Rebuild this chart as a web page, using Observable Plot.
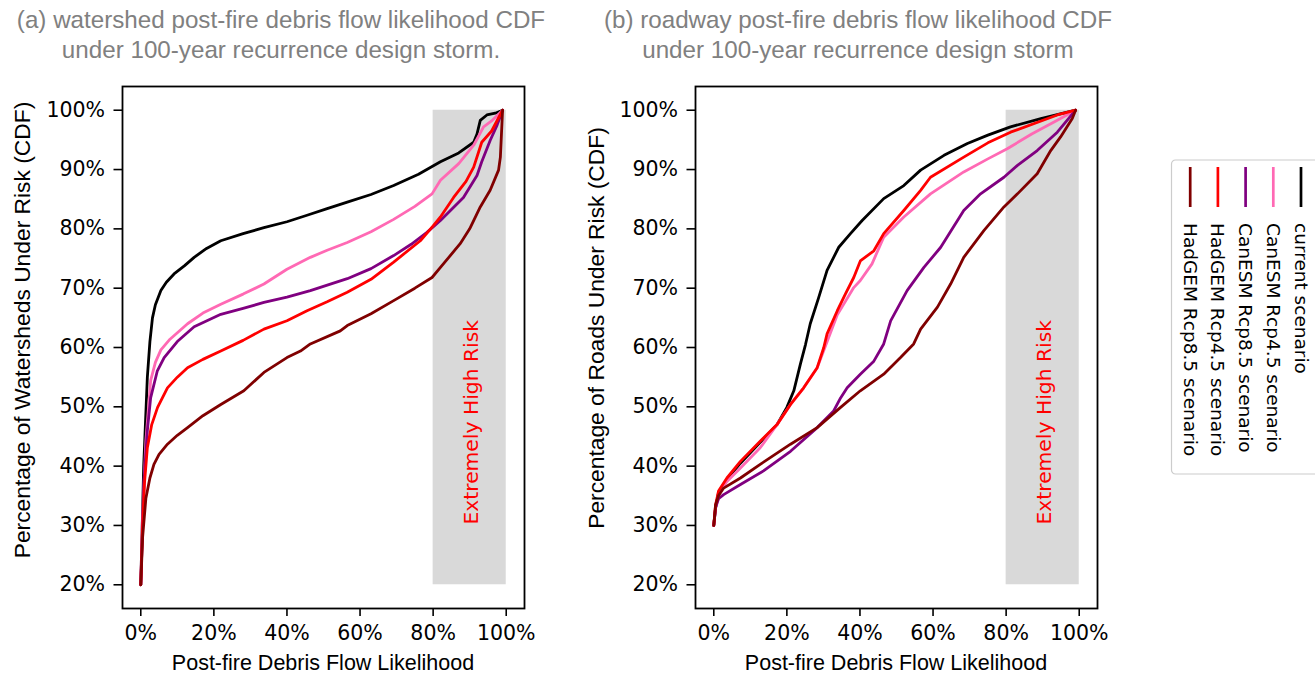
<!DOCTYPE html>
<html>
<head>
<meta charset="utf-8">
<script src="https://cdn.jsdelivr.net/npm/d3@7"></script>
<script src="https://cdn.jsdelivr.net/npm/@observablehq/plot@0.6"></script>
<style>
  html, body { margin: 0; padding: 0; background: #fff; }
  #root { position: relative; width: 1315px; height: 675px; overflow: hidden; }
  .title { position: absolute; transform: translateX(-50%); text-align: center; white-space: nowrap;
           font-family: "Liberation Sans", Arial, sans-serif; font-size: 24.2px; line-height: 30px; color: #808080; }
  .xlabel { position: absolute; transform: translate(-50%, -50%); white-space: nowrap;
            font-family: "Liberation Sans", Arial, sans-serif; font-size: 21.5px; color: #000; }
  .ylabel { position: absolute; transform: translate(-50%, -50%) rotate(-90deg); white-space: nowrap;
            font-family: "Liberation Sans", Arial, sans-serif; font-size: 22.8px; color: #000; }
  .panel { position: absolute; }
</style>
</head>
<body>
<div id="root"></div>
<script>
// ---------- data ----------
const seriesNames = ["current scenario", "CanESM Rcp4.5 scenario", "CanESM Rcp8.5 scenario", "HadGEM Rcp4.5 scenario", "HadGEM Rcp8.5 scenario"];
const seriesColors = ["#000000", "#ff69b4", "#800080", "#ff0000", "#800000"];

const xTicks = [0, 0.2, 0.4, 0.6, 0.8, 1.0];
const yTicks = [0.2, 0.3, 0.4, 0.5, 0.6, 0.7, 0.8, 0.9, 1.0];
const riskX = [0.8, 1.0];
const riskY = [0.2, 1.0];
const riskLabel = "Extremely High Risk";

const titleA = ["(a) watershed post-fire debris flow likelihood CDF", "under 100-year recurrence design storm."];
const titleB = ["(b) roadway post-fire debris flow likelihood CDF", "under 100-year recurrence design storm"];
const xLabel = "Post-fire Debris Flow Likelihood";
const yLabelA = "Percentage of Watersheds Under Risk (CDF)";
const yLabelB = "Percentage of Roads Under Risk (CDF)";

// (a) watershed CDF: [likelihood, cumulative share]
const wsCurrent = [[0,0.2],[0.008,0.4],[0.018,0.55],[0.025,0.61],[0.032,0.65],[0.04,0.672],[0.055,0.696],[0.07,0.71],[0.091,0.724],[0.12,0.738],[0.146,0.752],[0.18,0.767],[0.219,0.78],[0.28,0.792],[0.337,0.802],[0.4,0.812],[0.455,0.823],[0.51,0.834],[0.565,0.845],[0.63,0.858],[0.692,0.873],[0.76,0.892],[0.82,0.913],[0.87,0.928],[0.911,0.946],[0.92,0.96],[0.929,0.983],[0.947,0.992],[0.97,0.995],[0.99,1.0]];
const wsCan45 = [[0,0.2],[0.004,0.3],[0.014,0.443],[0.027,0.544],[0.04,0.575],[0.055,0.596],[0.08,0.614],[0.128,0.64],[0.17,0.658],[0.219,0.673],[0.28,0.69],[0.337,0.707],[0.4,0.732],[0.464,0.752],[0.51,0.764],[0.565,0.777],[0.63,0.795],[0.692,0.816],[0.75,0.838],[0.797,0.859],[0.82,0.882],[0.87,0.91],[0.911,0.941],[0.938,0.972],[0.96,0.982],[0.99,1.0]];
const wsCan85 = [[0,0.2],[0.009,0.375],[0.018,0.46],[0.027,0.515],[0.045,0.56],[0.064,0.583],[0.1,0.61],[0.146,0.635],[0.219,0.656],[0.28,0.666],[0.337,0.676],[0.4,0.685],[0.464,0.696],[0.565,0.716],[0.63,0.733],[0.692,0.755],[0.74,0.774],[0.783,0.794],[0.82,0.814],[0.883,0.853],[0.92,0.89],[0.933,0.913],[0.956,0.949],[0.975,0.975],[0.99,1.0]];
const wsHad45 = [[0,0.2],[0.005,0.3],[0.01,0.37],[0.018,0.431],[0.03,0.47],[0.046,0.499],[0.073,0.532],[0.1,0.55],[0.128,0.566],[0.17,0.58],[0.219,0.594],[0.28,0.612],[0.337,0.631],[0.4,0.645],[0.455,0.662],[0.51,0.677],[0.565,0.693],[0.63,0.715],[0.692,0.744],[0.765,0.78],[0.8,0.805],[0.82,0.82],[0.856,0.853],[0.89,0.88],[0.911,0.904],[0.933,0.946],[0.96,0.965],[0.99,1.0]];
const wsHad85 = [[0,0.2],[0.005,0.28],[0.014,0.346],[0.025,0.38],[0.036,0.403],[0.05,0.42],[0.073,0.437],[0.1,0.452],[0.128,0.465],[0.17,0.485],[0.219,0.504],[0.282,0.527],[0.337,0.558],[0.4,0.583],[0.437,0.594],[0.464,0.606],[0.546,0.628],[0.565,0.637],[0.63,0.657],[0.692,0.679],[0.75,0.7],[0.797,0.718],[0.82,0.735],[0.874,0.775],[0.9,0.8],[0.929,0.837],[0.956,0.865],[0.979,0.899],[0.984,0.921],[0.99,1.0]];

// (b) roadway CDF
const rdCurrent = [[0,0.3],[0.005,0.33],[0.013,0.355],[0.036,0.378],[0.073,0.405],[0.127,0.44],[0.173,0.47],[0.2,0.499],[0.219,0.527],[0.237,0.572],[0.251,0.605],[0.264,0.64],[0.287,0.684],[0.31,0.73],[0.342,0.769],[0.374,0.792],[0.406,0.814],[0.465,0.851],[0.52,0.873],[0.566,0.899],[0.63,0.924],[0.694,0.944],[0.75,0.958],[0.812,0.972],[0.895,0.986],[0.99,1.0]];
const rdCan45 = [[0,0.3],[0.005,0.33],[0.013,0.352],[0.036,0.374],[0.073,0.397],[0.127,0.431],[0.173,0.47],[0.21,0.504],[0.246,0.532],[0.283,0.566],[0.301,0.595],[0.338,0.655],[0.383,0.701],[0.401,0.713],[0.433,0.741],[0.465,0.786],[0.52,0.82],[0.593,0.859],[0.684,0.896],[0.75,0.918],[0.803,0.935],[0.87,0.96],[0.94,0.983],[0.99,1.0]];
const rdCan85 = [[0,0.3],[0.005,0.33],[0.013,0.345],[0.027,0.352],[0.073,0.369],[0.136,0.392],[0.21,0.425],[0.283,0.465],[0.328,0.493],[0.347,0.515],[0.365,0.532],[0.401,0.555],[0.438,0.577],[0.465,0.606],[0.484,0.645],[0.529,0.696],[0.575,0.735],[0.621,0.769],[0.684,0.831],[0.73,0.859],[0.794,0.887],[0.831,0.907],[0.885,0.932],[0.94,0.963],[0.99,1.0]];
const rdHad45 = [[0,0.3],[0.005,0.335],[0.013,0.358],[0.036,0.38],[0.073,0.408],[0.127,0.442],[0.173,0.47],[0.21,0.504],[0.246,0.532],[0.283,0.566],[0.301,0.6],[0.31,0.623],[0.338,0.662],[0.36,0.69],[0.383,0.718],[0.401,0.746],[0.438,0.763],[0.465,0.792],[0.52,0.831],[0.566,0.865],[0.593,0.887],[0.684,0.921],[0.75,0.945],[0.812,0.963],[0.94,0.992],[0.99,1.0]];
const rdHad85 = [[0,0.3],[0.005,0.335],[0.013,0.35],[0.027,0.363],[0.073,0.38],[0.127,0.403],[0.21,0.437],[0.283,0.465],[0.347,0.499],[0.401,0.527],[0.465,0.555],[0.511,0.583],[0.547,0.606],[0.566,0.631],[0.612,0.668],[0.648,0.707],[0.684,0.752],[0.739,0.797],[0.794,0.837],[0.831,0.859],[0.885,0.893],[0.922,0.932],[0.949,0.955],[0.981,0.986],[0.99,1.0]];

const panelA = [wsCurrent, wsCan45, wsCan85, wsHad45, wsHad85];
const panelB = [rdCurrent, rdCan45, rdCan85, rdHad45, rdHad85];

// ---------- drawing ----------
const root = document.getElementById("root");
const FONT = "DejaVu Sans, sans-serif";

function panel(series, opts) {
  const band = [{x1: riskX[0], x2: riskX[1], y1: riskY[0], y2: riskY[1]}];
  const marks = [
    Plot.rect(band, {x1: "x1", x2: "x2", y1: "y1", y2: "y2", fill: "#d9d9d9"}),
    Plot.text([riskLabel], {x: opts.labelX, y: opts.labelY, text: d => d, rotate: -90,
      fill: "red", fontSize: 20.3, fontFamily: FONT, textAnchor: "middle", lineAnchor: "middle"}),
    ...series.map((s, i) => Plot.line(s, {x: d => d[0], y: d => d[1], stroke: seriesColors[i],
      strokeWidth: 2.8, strokeLinejoin: "round", strokeLinecap: "round"})),
    Plot.frame({stroke: "black", strokeWidth: 1.8}),
    Plot.axisX({ticks: xTicks, tickFormat: d3.format(".0%"), tickSize: 8, tickPadding: 9,
      strokeWidth: 1.6, label: null, fontSize: 20.5, fontFamily: FONT, fill: "black"}),
    Plot.axisY({ticks: yTicks, tickFormat: d3.format(".0%"), tickSize: 8.5, tickPadding: 9,
      strokeWidth: 1.6, label: null, fontSize: 20.5, fontFamily: FONT, fill: "black"})
  ];
  const svg = Plot.plot({
    width: 560, height: 600,
    marginLeft: opts.ml, marginRight: opts.mr, marginTop: 11, marginBottom: 67,
    x: {domain: [-0.05, 1.05]},
    y: {domain: [0.16, 1.04]},
    style: {fontFamily: FONT, background: "transparent", color: "black", overflow: "visible"},
    marks
  });
  svg.classList.add("panel");
  svg.style.left = opts.left + "px";
  svg.style.top = "75px";
  root.appendChild(svg);
}

panel(panelA, {left: 0, ml: 122, mr: 36, labelX: 0.904, labelY: 0.474});
panel(panelB, {left: 575, ml: 120, mr: 38, labelX: 0.906, labelY: 0.474});

function addDiv(cls, text, x, y) {
  const d = document.createElement("div");
  d.className = cls; d.textContent = text;
  d.style.left = x + "px"; d.style.top = y + "px";
  root.appendChild(d);
  return d;
}
const tA = addDiv("title", "", 281, 5); tA.innerHTML = titleA.join("<br>");
const tB = addDiv("title", "", 858, 5); tB.innerHTML = titleB.join("<br>");
addDiv("xlabel", xLabel, 323, 663);
addDiv("xlabel", xLabel, 896, 663);
addDiv("ylabel", yLabelA, 22, 330);
addDiv("ylabel", yLabelB, 596, 328);

// ---------- legend (rotated 90° clockwise) ----------
const lg = d3.select(root).append("svg")
  .attr("width", 150).attr("height", 330)
  .style("position", "absolute").style("left", "1170px").style("top", "158px");
lg.append("rect").attr("x", 1.5).attr("y", 2).attr("width", 170).attr("height", 314)
  .attr("rx", 4).attr("fill", "white").attr("stroke", "#cccccc").attr("stroke-width", 1.2);
seriesNames.forEach((name, i) => {
  const cx = 131 - 27.7 * i;
  lg.append("line").attr("x1", cx).attr("x2", cx).attr("y1", 9).attr("y2", 49)
    .attr("stroke", seriesColors[i]).attr("stroke-width", 2.7);
  lg.append("text").attr("transform", `translate(${cx},65) rotate(90)`)
    .attr("dominant-baseline", "central").attr("font-family", FONT).attr("font-size", 18.5)
    .attr("fill", "black").text(name);
});
</script>
</body>
</html>
